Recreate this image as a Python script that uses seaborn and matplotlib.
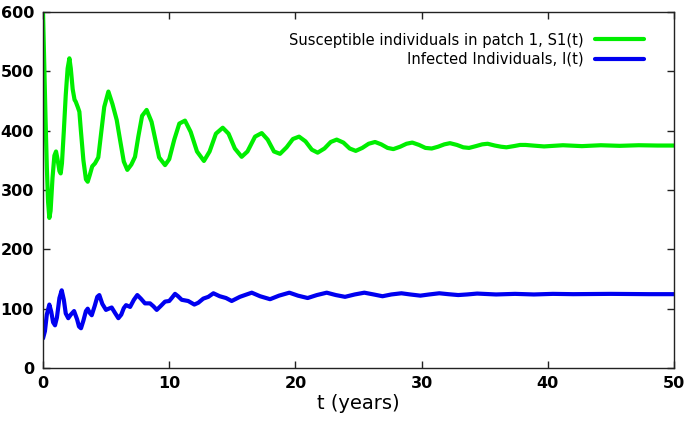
import numpy as np
import pandas as pd
import seaborn as sns
import matplotlib
matplotlib.use("Agg")
import matplotlib.pyplot as plt

# values
t_s = [0.0, 0.1, 0.2, 0.3, 0.4, 0.5, 0.6, 0.75, 0.9, 1.03, 1.15, 1.3, 1.4, 1.5,
       1.65, 1.8, 1.95, 2.09, 2.2, 2.35, 2.5, 2.59, 2.75, 2.88, 3.0, 3.2, 3.4,
       3.54, 3.7, 3.9, 4.12, 4.38, 4.6, 4.85, 5.18, 5.5, 5.84, 6.1, 6.4, 6.68,
       7.0, 7.29, 7.55, 7.85, 8.21, 8.6, 8.9, 9.2, 9.67, 10.0, 10.4, 10.8,
       11.25, 11.7, 12.2, 12.75, 13.2, 13.7, 14.24, 14.7, 15.2, 15.74, 16.2,
       16.8, 17.33, 17.8, 18.3, 18.78, 19.3, 19.8, 20.29, 20.8, 21.3, 21.76,
       22.3, 22.8, 23.27, 23.8, 24.3, 24.78, 25.3, 25.8, 26.31, 26.8, 27.3,
       27.76, 28.3, 28.8, 29.26, 29.8, 30.3, 30.8, 31.3, 31.8, 32.25, 32.8,
       33.3, 33.76, 34.3, 34.8, 35.23, 35.8, 36.3, 36.72, 37.3, 37.8, 38.24,
       38.8, 39.7, 41.2, 42.7, 44.2, 45.7, 47.2, 48.7, 50.0]
s1 = [600, 510, 420, 340, 280, 253, 265, 320, 358, 365, 352, 332, 328, 345,
      400, 460, 505, 522, 505, 470, 452, 449, 440, 432, 400, 350, 318,
      314, 325, 340, 345, 355, 395, 440, 466, 445, 418, 385, 348, 334,
      343, 356, 390, 425, 435, 415, 385, 355, 342, 352, 385, 412,
      417, 398, 365, 349, 365, 395, 405, 395, 370, 356, 365,
      390, 396, 385, 365, 361, 372, 386, 390, 382, 368, 363,
      370, 381, 385, 380, 370, 366, 371, 378, 381, 377, 371,
      369, 373, 378, 380, 376, 371, 370, 373, 377, 379, 376,
      372, 371, 374, 377, 378, 375, 373, 372, 374, 376, 376,
      375, 373.5, 375.5, 374, 375.5, 374.5, 375.5, 375, 375]

t_i = [0.0, 0.15, 0.3, 0.5, 0.65, 0.8, 0.95, 1.1, 1.3, 1.48, 1.65, 1.8, 2.0,
       2.2, 2.46, 2.7, 2.85, 3.01, 3.2, 3.4, 3.54, 3.7, 3.86, 4.1, 4.3, 4.46,
       4.7, 4.99, 5.2, 5.44, 5.7, 5.97, 6.2, 6.4, 6.58, 6.9, 7.2, 7.47, 7.75,
       8.08, 8.48, 8.75, 9.01, 9.3, 9.67, 10.0, 10.2, 10.46, 10.7, 10.99, 11.5,
       11.99, 12.3, 12.7, 13.1, 13.5, 14.0, 14.5, 14.95, 15.6, 16.0, 16.54,
       17.2, 17.99, 18.7, 19.52, 20.2, 20.97, 21.7, 22.48, 23.2, 23.93, 24.7,
       25.46, 26.2, 26.9, 27.6, 28.4, 29.1, 29.9, 30.6, 31.4, 32.1, 32.9,
       33.6, 34.4, 35.9, 37.4, 38.9, 40.4, 42.0, 45.0, 48.0, 50.0]
infected = [50, 62, 90, 107, 95, 77, 72, 85, 118, 131, 115, 92, 84,
            90, 96, 82, 70, 67, 80, 96, 100, 93, 89, 105, 120, 123,
            108, 98, 100, 102, 93, 84, 90, 101, 106, 103, 115, 123, 117,
            109, 109, 104, 98, 104, 112, 113, 118, 125, 121, 115, 113,
            107, 110, 117, 120, 126, 121, 118, 113, 120, 123, 127,
            121, 116, 122, 127, 122, 118, 123, 127, 123, 120, 124,
            127, 124, 121, 124, 126, 124, 122, 124, 126, 124.5, 123,
            124, 125.5, 124, 125, 124, 125, 124.5, 125, 124.5, 124.5]

labels = ["Susceptible individuals in patch 1, S1(t)", "Infected Individuals, I(t)"]
colors = ["#00ee00", "#0000f0"]

sns.set_style("ticks")
plt.rcParams["font.family"] = ["DejaVu Sans"]

fig = plt.figure(figsize=(6.84, 4.24), dpi=100)
ax = fig.add_axes([0.0629, 0.132, 0.9225, 0.8396])

df_s = pd.DataFrame({"t": t_s, "v": s1})
df_i = pd.DataFrame({"t": t_i, "v": infected})
sns.lineplot(data=df_s, x="t", y="v", ax=ax, color=colors[0], lw=3, label=labels[0])
sns.lineplot(data=df_i, x="t", y="v", ax=ax, color=colors[1], lw=3, label=labels[1])

ax.set_xlim(0, 50)
ax.set_ylim(0, 600)
ax.set_xticks(np.arange(0, 51, 10))
ax.set_yticks(np.arange(0, 601, 100))
ax.tick_params(direction="in", length=5, width=1, top=True, right=True,
               colors="#222222", labelcolor="black", labelsize=11.5)
ax.tick_params(axis="y", pad=6.5)
ax.tick_params(axis="x", pad=6)
for lab in ax.get_xticklabels() + ax.get_yticklabels():
    lab.set_fontweight("bold")
for sp in ax.spines.values():
    sp.set_visible(True)
    sp.set_color("#222222")
    sp.set_linewidth(1)

ax.set_xlabel("t (years)", fontsize=14, labelpad=2, color="black")
ax.set_ylabel("")

leg = ax.legend(loc="upper right", bbox_to_anchor=(0.961, 0.959), frameon=False,
                markerfirst=False, fontsize=10.6, handlelength=3.3,
                handletextpad=0.75, labelspacing=0.3, borderaxespad=0)
for h in leg.get_lines():
    h.set_linewidth(3)
for txt in leg.get_texts():
    txt.set_color("black")

fig.savefig("out.png", dpi=100)
